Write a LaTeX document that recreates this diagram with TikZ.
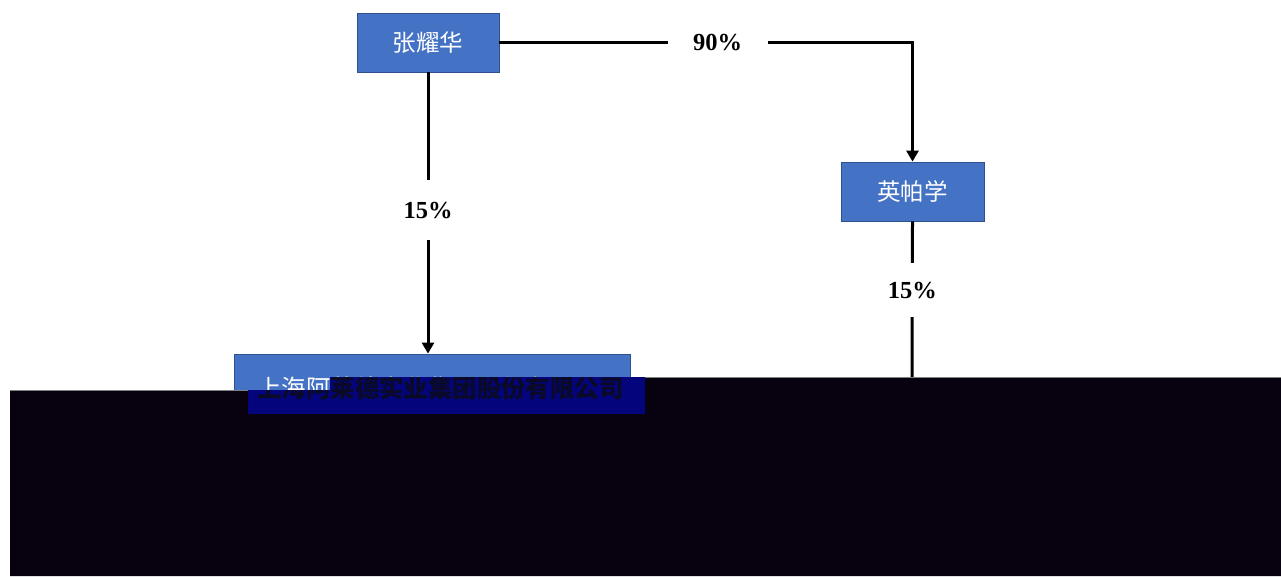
\documentclass[tikz,border=0pt]{standalone}
\usepackage{fontspec}
\newfontfamily\cjk{Noto Sans CJK SC}
\newfontfamily\numfont{Liberation Serif}
\usetikzlibrary{arrows.meta}
\definecolor{boxblue}{RGB}{68,114,196}
\definecolor{boxedge}{RGB}{47,82,143}
\definecolor{navyband}{RGB}{4,4,125}
\definecolor{darkband}{RGB}{8,2,16}
\definecolor{textdark}{RGB}{10,10,40}
\tikzset{
  entity/.style={draw=boxedge, line width=0.8pt, fill=boxblue, text=white, inner sep=0pt,
    font=\cjk\fontsize{23.5}{23.5}\selectfont},
  link/.style={line width=3pt, draw=black, -{Triangle[length=11pt,width=12pt]}},
  plainlink/.style={line width=3pt, draw=black},
  pct/.style={fill=white, inner sep=0pt, font=\numfont\bfseries\fontsize{24.5}{24.5}\selectfont},
  bigtext/.style={inner sep=0pt, font=\cjk\fontsize{24.4}{24.4}\selectfont},
}
\begin{document}
\begin{tikzpicture}[x=1pt,y=-1pt]
\useasboundingbox (0,0) rectangle (1281,576);
\fill[white] (0,0) rectangle (1281,576);
% entities
\node[entity, minimum width=142pt, minimum height=59pt] (zhang) at (428,42.5) {张耀华};
\node[entity, minimum width=143pt, minimum height=59pt] (ying) at (912.5,191.5) {英帕学};
\node[entity, minimum width=396pt, minimum height=68pt] (big) at (432,388) {};
\node[bigtext, text=white] (bigname) at (440.5,388) {上海阿莱德实业集团股份有限公司};
\coordinate (yingend) at (912,400);
% connectors
\draw[link] (zhang.east) -| node[pct, pos=0.264, minimum width=100pt, minimum height=30pt] {90\%} (ying.north);
\draw[link] (zhang.south) -- node[pct, pos=0.49, minimum height=60pt, minimum width=50pt] {15\%} (zhang.south |- big.north);
\draw[plainlink] (ying.south) -- node[pct, pos=0.385, minimum height=54pt, minimum width=50pt] {15\%} (yingend);
% overlay bands (as in the reference)
\fill[navyband] (248,390) -- (330,390) -- (330,377) -- (645,377) -- (645,414) -- (248,414) -- cycle;
\begin{scope}
  \clip (248,390) -- (330,390) -- (330,377) -- (645,377) -- (645,414) -- (248,414) -- cycle;
  \node[bigtext, text=textdark, font=\cjk\bfseries\fontsize{24.4}{24.4}\selectfont] at (bigname.center) {上海阿莱德实业集团股份有限公司};
\end{scope}
\fill[darkband] (10,390) -- (248,390) -- (248,414) -- (645,414) -- (645,377) -- (1281,377) -- (1281,576) -- (10,576) -- cycle;
\draw[gray, line width=1pt] (10,390) -- (248,390);
\draw[gray, line width=1pt] (645,377) -- (1281,377);
\end{tikzpicture}
\end{document}
